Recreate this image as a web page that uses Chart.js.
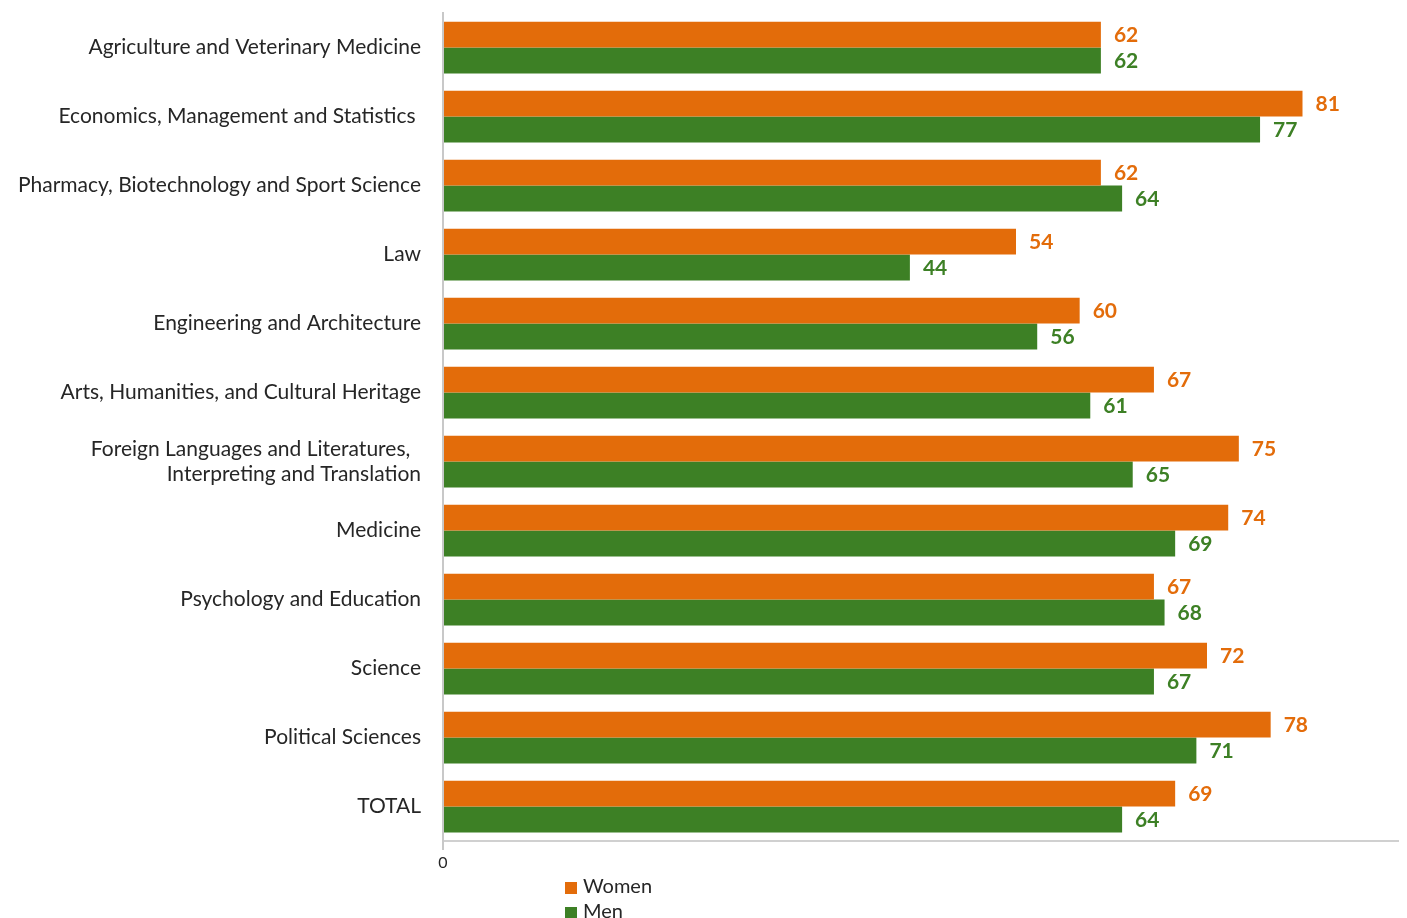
<!DOCTYPE html>
<html lang="en">
<head>
    <meta charset="UTF-8">
    <title>Graduates by field</title>
    <style>
        body { margin: 0; background: #fff; }
        .wrap { position: relative; width: 1407px; height: 918px; }
        .legend { position: absolute; left: 565px; top: 874px; font-family: Lato, sans-serif; font-size: 20px; color: #262626; }
        .legend div { height: 25px; line-height: 22px; }
        .legend span { display: inline-block; width: 12px; height: 12px; margin-right: 6px; vertical-align: -1px; }
    </style>
</head>
<body>
    <div class="wrap">
        <canvas id="myChart" width="1407" height="918"></canvas>
        <div class="legend">
            <div><span style="background:#e36c0a"></span>Women</div>
            <div><span style="background:#3d8025"></span>Men</div>
        </div>
    </div>
<script src="https://cdn.jsdelivr.net/npm/chart.js"></script>
<script>
    const categories = [
        'Agriculture and Veterinary Medicine',
        'Economics, Management and Statistics ',
        'Pharmacy, Biotechnology and Sport Science',
        'Law',
        'Engineering and Architecture',
        'Arts, Humanities, and Cultural Heritage',
        ['Foreign Languages and Literatures,  ', 'Interpreting and Translation'],
        'Medicine',
        'Psychology and Education',
        'Science',
        'Political Sciences',
        'TOTAL'
    ];
    const women = [62, 81, 62, 54, 60, 67, 75, 74, 67, 72, 78, 69];
    const men = [62, 77, 64, 44, 56, 61, 65, 69, 68, 67, 71, 64];

    const orange = '#e36c0a';
    const green = '#3d8025';

    // value labels to the right of each bar
    const barValues = {
        id: 'barValues',
        afterDatasetsDraw(chart) {
            const ctx = chart.ctx;
            ctx.save();
            ctx.font = 'bold 21px Lato, sans-serif';
            ctx.textAlign = 'left';
            ctx.textBaseline = 'middle';
            chart.data.datasets.forEach((ds, i) => {
                const meta = chart.getDatasetMeta(i);
                ctx.fillStyle = ds.backgroundColor;
                meta.data.forEach((bar, j) => {
                    ctx.fillText(ds.data[j], bar.x + 13, bar.y + 1);
                });
            });
            ctx.restore();
        }
    };

    const data = {
        labels: categories,
        datasets: [{
            label: 'Women',
            data: women,
            backgroundColor: orange,
            categoryPercentage: 0.75,
            barPercentage: 1.0
        }, {
            label: 'Men',
            data: men,
            backgroundColor: green,
            categoryPercentage: 0.75,
            barPercentage: 1.0
        }]
    };

    const config = {
        type: 'bar',
        data: data,
        plugins: [barValues],
        options: {
            indexAxis: 'y',
            responsive: false,
            animation: false,
            devicePixelRatio: 1,
            layout: { padding: { top: 13, right: 9, bottom: 47, left: 0 } },
            plugins: {
                legend: { display: false },
                tooltip: { enabled: false }
            },
            scales: {
                x: {
                    min: 0,
                    max: 90,
                    ticks: {
                        stepSize: 90,
                        color: '#262626',
                        font: { family: 'Lato, sans-serif', size: 16 },
                        padding: 3,
                        callback: (v) => v === 0 ? '0' : ''
                    },
                    grid: {
                        drawOnChartArea: false,
                        tickLength: 9,
                        lineWidth: 2,
                        color: (c) => c.tick && c.tick.value === 0 ? '#c8c8c8' : 'transparent'
                    },
                    border: { color: '#d0d0d0', width: 2 },
                    afterFit: (s) => { s.height = 30; s.paddingLeft = 0; s.paddingRight = 0; }
                },
                y: {
                    ticks: {
                        color: '#262626',
                        font: { family: 'Lato, sans-serif', size: 21 },
                        padding: 22
                    },
                    grid: { display: false, drawTicks: false },
                    border: { color: '#c8c8c8', width: 2 },
                    afterFit: (s) => { s.width = 443; s.paddingTop = 0; s.paddingBottom = 0; }
                }
            }
        }
    };

    const context = document.getElementById('myChart').getContext('2d');
    const myChart = new Chart(context, config);
</script>
</body>
</html>
